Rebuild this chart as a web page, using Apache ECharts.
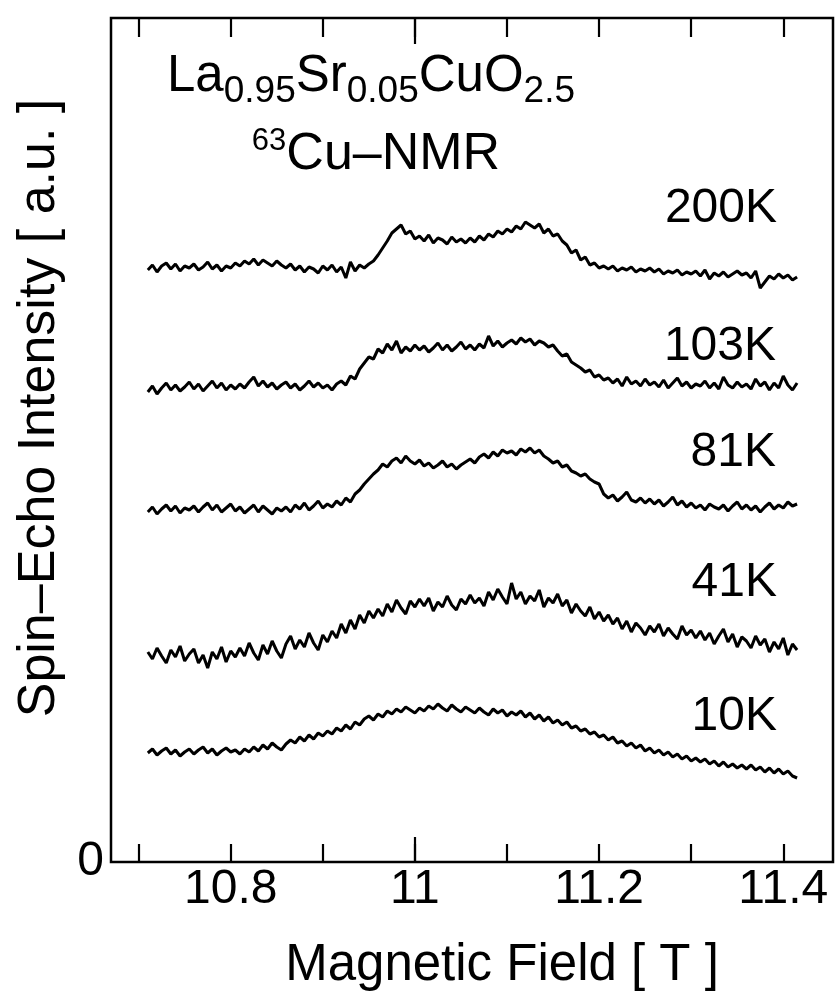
<!DOCTYPE html>
<html><head><meta charset="utf-8">
<script src="https://cdn.jsdelivr.net/npm/echarts@6/dist/echarts.min.js"></script>
<style>html,body{margin:0;padding:0;background:#fff}#c{width:835px;height:997px}</style>
</head><body><div id="c"></div>
<script>
// Field sweep: first field value and step (T)
const fieldStart = 10.71;
const fieldStep = 0.005;
const temperatures = ['200K', '103K', '81K', '41K', '10K'];
const xTickValues = [10.7, 10.8, 10.9, 11.0, 11.1, 11.2, 11.3, 11.4];
const xLabelValues = [10.8, 11.0, 11.2, 11.4];
const xLongTickValues = [11.0];
const yLabelValues = [0];

// Spin-echo intensity (a.u.), one value per field step
const spec200K = [
592,597,590,596,599,593,598,591,596,594,
598,592,595,600,593,597,591,596,594,599,
596,601,598,603,597,602,599,596,601,597,
594,598,592,596,590,595,593,589,596,592,
597,590,595,584,600,591,597,594,598,601,
607,614,621,629,633,637,628,631,623,626,
621,627,619,624,622,618,625,620,623,619,
624,620,626,622,628,625,631,628,633,630,
636,633,640,637,634,638,629,633,626,628,
621,617,609,612,602,605,597,599,594,596,
593,596,591,594,592,595,590,593,591,594,
590,593,588,591,589,592,587,590,588,591,
586,592,583,589,586,590,585,588,591,587,
589,584,591,574,580,586,583,588,584,587,
582,585];
const spec103K = [
470,476,468,474,479,472,477,471,475,480,
473,478,471,476,481,474,479,472,477,473,
478,474,480,485,476,481,475,479,473,477,
480,474,478,472,476,481,475,479,474,477,
472,478,481,477,486,483,493,499,505,503,
513,509,518,512,521,509,515,511,517,512,
516,510,514,519,512,517,511,515,520,513,
517,512,518,514,526,516,521,515,519,522,
518,524,520,523,517,521,519,515,517,511,
506,508,500,497,494,490,492,485,487,482,
484,479,483,476,485,478,481,476,483,477,
480,475,482,474,479,484,476,480,474,478,
476,481,474,479,473,485,477,474,480,475,
478,473,483,476,480,472,479,474,486,477,
472,479];
const spec81K = [
350,355,348,353,357,351,356,349,354,352,
356,350,355,359,352,357,350,354,358,351,
355,349,353,357,350,356,352,348,354,351,
355,350,357,353,359,352,356,361,354,358,
355,361,357,364,360,368,372,378,383,388,
392,398,395,401,404,399,406,401,398,402,
396,399,394,397,401,395,398,393,397,400,
403,399,405,408,404,410,406,412,409,411,
407,413,410,414,409,412,406,403,399,401,
395,397,391,389,386,388,383,380,378,368,
364,367,361,365,370,362,360,364,359,363,
358,362,356,360,365,357,361,355,359,354,
357,352,358,355,353,357,351,356,360,353,
357,352,356,350,355,359,353,357,354,360,
356,358];
const spec41K = [
210,203,214,206,199,212,205,216,201,208,
213,199,207,194,210,203,215,200,211,205,
214,206,219,209,202,217,208,221,211,204,
218,226,213,222,215,229,219,212,227,220,
231,224,238,229,242,233,247,239,251,244,
253,246,258,250,262,254,248,261,255,263,
256,264,251,260,255,266,257,252,263,258,
267,259,264,256,270,262,273,265,258,279,
263,270,258,266,261,272,255,264,259,268,
256,262,249,258,251,246,255,243,250,241,
247,238,244,233,241,230,239,234,227,236,
230,238,226,234,228,223,236,227,232,224,
231,222,229,218,226,233,220,228,215,225,
221,214,226,217,223,210,220,213,224,207,
218,212];
const spec10K = [
109,113,107,111,114,108,112,106,110,113,
108,112,115,109,113,107,111,114,110,112,
108,113,110,115,111,117,113,119,115,112,
118,122,119,125,121,127,123,129,126,131,
128,134,131,137,133,140,137,143,146,142,
148,145,151,148,153,150,155,152,149,154,
151,156,153,158,154,151,157,153,150,155,
152,149,154,150,147,153,149,152,146,150,
147,151,145,149,143,147,141,145,139,142,
137,140,134,136,131,133,128,130,125,127,
122,125,119,121,116,119,114,117,111,114,
109,112,107,110,105,108,103,106,101,104,
100,103,98,101,96,100,95,98,94,97,
93,97,92,95,90,94,89,93,88,91,
86,84];

const spectra = [spec200K, spec103K, spec81K, spec41K, spec10K];
const FONT = '"Liberation Sans", Arial, Helvetica, sans-serif';

function pairs(vals) {
  return vals.map((v, i) => [+(fieldStart + i * fieldStep).toFixed(4), v]);
}

const chart = echarts.init(document.getElementById('c'), null, {renderer: 'canvas'});

const xBase = {
  type: 'value', min: 10.67, max: 11.454,
  axisLine: {show: false}, splitLine: {show: false}
};
const tickStyle = {color: '#000', width: 2.2};

const option = {
  animation: false,
  backgroundColor: '#fff',
  grid: {left: 111, right: 2, top: 18, bottom: 135, show: true,
         borderColor: '#000', borderWidth: 2.5, backgroundColor: 'transparent'},
  xAxis: [
    Object.assign({}, xBase, {
      position: 'bottom',
      axisTick: {show: true, inside: true, length: 18, lineStyle: tickStyle, customValues: xTickValues},
      axisLabel: {show: true, customValues: xLabelValues, fontSize: 48, fontFamily: FONT, color: '#000', margin: 4,
                  formatter: v => String(+(+v).toFixed(1))}
    }),
    Object.assign({}, xBase, {
      position: 'bottom',
      axisTick: {show: true, inside: true, length: 25, lineStyle: tickStyle, customValues: xLongTickValues},
      axisLabel: {show: false}
    }),
    Object.assign({}, xBase, {
      position: 'top',
      axisTick: {show: true, inside: true, length: 19, lineStyle: tickStyle, customValues: xTickValues},
      axisLabel: {show: false}
    }),
    Object.assign({}, xBase, {
      position: 'top',
      axisTick: {show: true, inside: true, length: 26, lineStyle: tickStyle, customValues: xLongTickValues},
      axisLabel: {show: false}
    })
  ],
  yAxis: {
    type: 'value', min: 0, max: 844,
    axisLine: {show: false}, axisTick: {show: false}, splitLine: {show: false},
    axisLabel: {show: true, customValues: yLabelValues, fontSize: 48, fontFamily: FONT, color: '#000', margin: 7}
  },
  series: spectra.map((vals, k) => ({
    name: temperatures[k],
    type: 'line', xAxisIndex: 0, yAxisIndex: 0,
    data: pairs(vals), showSymbol: false, symbol: 'none',
    lineStyle: {color: '#000', width: 3}, z: 3
  })),
  graphic: [
    {type: 'text', x: 371, y: 77, z: 10, style: {
      text: '{m|La}{s|0.95}{m|Sr}{s|0.05}{m|CuO}{s|2.5}',
      align: 'center', verticalAlign: 'middle', fill: '#000',
      rich: {m: {fontSize: 51, fontFamily: FONT, color: '#000'},
             s: {fontSize: 37, fontFamily: FONT, color: '#000', padding: [29, 0, 0, 0]}}
    }},
    {type: 'text', x: 376, y: 155, z: 10, style: {
      text: '{p|63}{m|Cu\u2013NMR}',
      align: 'center', verticalAlign: 'middle', fill: '#000',
      rich: {m: {fontSize: 52, fontFamily: FONT, color: '#000'},
             p: {fontSize: 31, fontFamily: FONT, color: '#000', padding: [0, 0, 28, 0]}}
    }},
    {type: 'text', x: 777, y: 209, style: {text: temperatures[0], font: '48px ' + FONT, fill: '#000', align: 'right', verticalAlign: 'middle'}},
    {type: 'text', x: 776, y: 347, style: {text: temperatures[1], font: '48px ' + FONT, fill: '#000', align: 'right', verticalAlign: 'middle'}},
    {type: 'text', x: 776, y: 453, style: {text: temperatures[2], font: '48px ' + FONT, fill: '#000', align: 'right', verticalAlign: 'middle'}},
    {type: 'text', x: 777, y: 583, style: {text: temperatures[3], font: '48px ' + FONT, fill: '#000', align: 'right', verticalAlign: 'middle'}},
    {type: 'text', x: 777, y: 717, style: {text: temperatures[4], font: '48px ' + FONT, fill: '#000', align: 'right', verticalAlign: 'middle'}},
    {type: 'text', x: 502, y: 966, style: {text: 'Magnetic Field [ T ]', font: '51px ' + FONT, fill: '#000', align: 'center', verticalAlign: 'middle'}},
    {type: 'text', x: 40, y: 408, rotation: Math.PI / 2, style: {text: 'Spin\u2013Echo Intensity [ a.u. ]', font: '52px ' + FONT, fill: '#000', align: 'center', verticalAlign: 'middle'}}
  ]
};
chart.setOption(option);
</script></body></html>
